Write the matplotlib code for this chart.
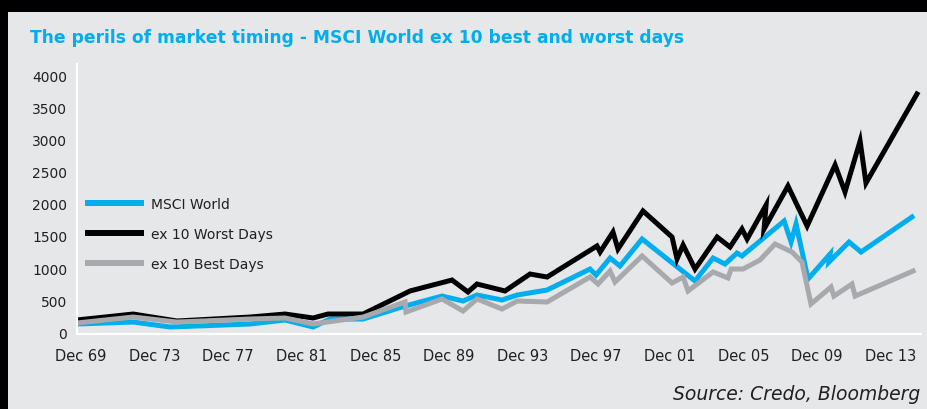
import matplotlib.pyplot as plt
from matplotlib.patches import Rectangle

plt.rcParams["font.family"] = "DejaVu Sans"

# decimal years, values
world_t = [1969.78, 1972.83, 1974.84, 1979.18, 1981.09, 1982.61, 1983.53, 1985.33,
           1987.61, 1989.62, 1990.76, 1991.52, 1992.88, 1993.70, 1995.33, 1997.66,
           1997.99, 1998.75, 1999.29, 2000.49, 2003.37, 2004.35, 2005.00, 2005.65,
           2005.92, 2008.21, 2008.59, 2008.86, 2009.51, 2010.71, 2010.65, 2011.74,
           2012.39, 2015.16]
world_v = [125, 156, 78, 125, 188, 78, 203, 203,
           406, 562, 484, 578, 500, 578, 656, 984,
           891, 1156, 1031, 1453, 797, 1156, 1062, 1234,
           1188, 1734, 1406, 1688, 828, 1219, 1094, 1406,
           1250, 1797]

worst_t = [1969.78, 1972.83, 1975.22, 1979.18, 1981.09, 1982.61, 1983.42, 1985.33,
           1987.88, 1988.70, 1990.16, 1991.03, 1991.52, 1993.04, 1994.40, 1995.33,
           1998.04, 1998.21, 1998.91, 1999.18, 2000.54, 2002.12, 2002.39, 2002.72,
           2003.37, 2004.57, 2005.27, 2005.92, 2006.20, 2007.23, 2007.12, 2008.42,
           2009.46, 2010.98, 2011.52, 2012.34, 2012.66, 2015.43]
worst_v = [188, 281, 172, 234, 281, 219, 281, 281,
           641, 703, 812, 625, 750, 641, 906, 859,
           1344, 1250, 1562, 1297, 1891, 1484, 1141, 1359,
           984, 1484, 1328, 1609, 1453, 1984, 1609, 2281,
           1656, 2609, 2188, 2984, 2328, 3719]

best_t = [1969.78, 1972.83, 1975.22, 1979.18, 1981.09, 1982.61, 1985.33, 1987.61,
          1987.66, 1989.62, 1990.76, 1991.52, 1992.88, 1993.70, 1995.33, 1997.66,
          1998.10, 1998.75, 1999.02, 2000.49, 2002.12, 2002.72, 2002.99, 2004.35,
          2005.16, 2005.33, 2005.98, 2006.90, 2007.72, 2008.64, 2009.18, 2009.67,
          2010.76, 2010.92, 2011.90, 2012.07, 2015.22]
best_v = [141, 234, 156, 203, 219, 125, 234, 469,
          312, 516, 328, 516, 359, 484, 469, 859,
          750, 953, 781, 1188, 766, 859, 641, 938,
          844, 984, 984, 1125, 1375, 1250, 1094, 438,
          703, 562, 750, 562, 953]

tick_years = [1970, 1974, 1978, 1982, 1986, 1990, 1994, 1998, 2002, 2006, 2010, 2014]
tick_labels = ["Dec 69", "Dec 73", "Dec 77", "Dec 81", "Dec 85", "Dec 89",
               "Dec 93", "Dec 97", "Dec 01", "Dec 05", "Dec 09", "Dec 13"]
y_ticks = [0, 500, 1000, 1500, 2000, 2500, 3000, 3500, 4000]

bg = "#E6E7E9"
txt = "#231F20"

fig = plt.figure(figsize=(9.28, 4.10), dpi=100, facecolor="black")
fig.patches.append(Rectangle((8 / 928, 0), 1, 1 - 13 / 410, transform=fig.transFigure,
                             facecolor=bg, edgecolor="none", zorder=-10))

ax = fig.add_axes([77 / 928, 1 - 335 / 410, 844 / 928, 270 / 410])
ax.set_facecolor(bg)
ax.set_zorder(1)

lw = 3.6
ax.plot(world_t, world_v, color="#00AEEF", lw=lw, solid_joinstyle="miter", label="MSCI World")
ax.plot(worst_t, worst_v, color="black", lw=lw, solid_joinstyle="miter", label="ex 10 Worst Days")
ax.plot(best_t, best_v, color="#A7A9AC", lw=lw, solid_joinstyle="miter", label="ex 10 Best Days")

ax.set_xlim(1969.78, 2015.65)
ax.set_ylim(-31, 4187)
ax.set_xticks(tick_years)
ax.set_xticklabels(tick_labels)
ax.set_yticks(y_ticks)
ax.tick_params(axis="x", length=0, pad=10, labelsize=10.5, labelcolor=txt)
ax.tick_params(axis="y", length=0, pad=7, labelsize=10, labelcolor=txt)

for s in ["top", "right"]:
    ax.spines[s].set_visible(False)
for s in ["left", "bottom"]:
    ax.spines[s].set_color("white")
    ax.spines[s].set_linewidth(1.5)

leg = ax.legend(loc="upper left", bbox_to_anchor=(0.013, 0.508), frameon=False,
                fontsize=10, handlelength=3.8, handletextpad=0.75, labelspacing=1.14,
                borderpad=0, borderaxespad=0)
for line in leg.get_lines():
    line.set_linewidth(4.3)
for t in leg.get_texts():
    t.set_color(txt)

fig.text(30 / 928, 1 - 43 / 410, "The perils of market timing - MSCI World ex 10 best and worst days",
         color="#00AEEF", fontsize=12.3, fontweight="bold", va="baseline", ha="left")
fig.text(920 / 928, 1 - 400 / 410, "Source: Credo, Bloomberg", color=txt,
         fontsize=13.5, style="italic", va="baseline", ha="right")

fig.savefig("out.png", dpi=100, facecolor=fig.get_facecolor())
